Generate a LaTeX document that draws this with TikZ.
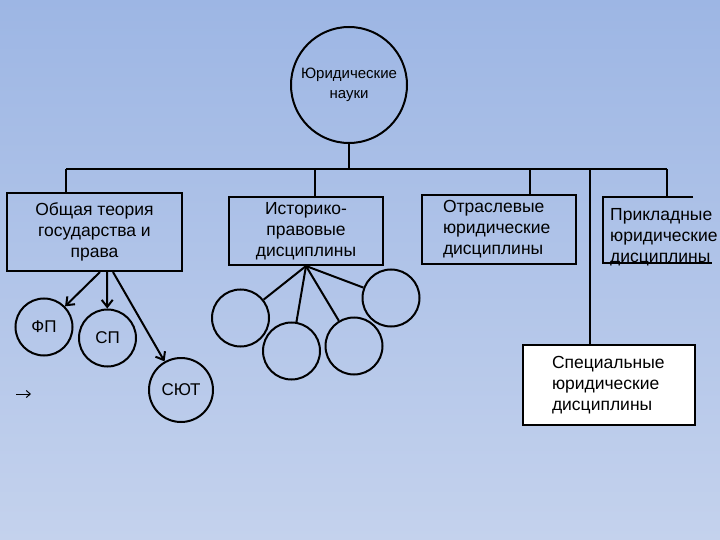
\documentclass[tikz,border=0pt]{standalone}
\usepackage{fontspec}
\setmainfont{Liberation Sans}
\usetikzlibrary{calc, positioning, arrows.meta}
\definecolor{bgtop}{RGB}{157,182,228}
\definecolor{bgbot}{RGB}{196,210,237}

\begin{document}
\begin{tikzpicture}[x=1pt, y=-1pt,
    link/.style={line width=2pt, black},
    arrow/.style={line width=2pt, black, -{Straight Barb[length=7pt, width=11pt]}},
    catbox/.style={draw=black, line width=2pt, inner sep=0pt, font=\fontsize{17.5}{21}\selectfont},
    leaf/.style={draw=black, circle, line width=2pt, minimum size=57pt, inner sep=0pt, font=\fontsize{17}{19}\selectfont}]

    % 0. Фон
    \shade[top color=bgtop, bottom color=bgbot] (0,0) rectangle (720,540);
    \useasboundingbox (0,0) rectangle (720,540);

    % 1. Корень: юридические науки
    \node[circle, draw, line width=2pt, minimum size=116pt, align=center,
          font=\fontsize{15}{20}\selectfont] (law) at (349,85) {Юридические\\науки};

    % 2. Группы дисциплин
    \node[catbox, minimum width=175pt, minimum height=78pt, align=center] (theory) at (94.5,232)
        {Общая теория\\государства и\\права};
    \node[catbox, minimum width=154pt, minimum height=68pt, align=center] (history) at (306,231)
        {Историко-\\правовые\\дисциплины};
    \node[catbox, text width=112pt, inner xsep=21pt, minimum height=69pt, align=left] (branch) at (499,229.5)
        {Отраслевые\\юридические\\дисциплины};
    \node[font=\fontsize{17.5}{21}\selectfont, align=left, anchor=west, inner sep=0pt] (applied) at (610,237)
        {Прикладные\\юридические\\дисциплины};
    \coordinate (appliedTop) at (603,197);
    \draw[link] (693,197) -- (appliedTop) -- (603,263) -- (712,263);
    \node[catbox, fill=white, text width=114pt, inner xsep=29pt, minimum height=80pt, align=left] (special) at (609,385)
        {Специальные\\юридические\\дисциплины};

    % 3. Шина и отводы
    \coordinate (busL) at (66,169);
    \coordinate (busR) at (667,169);
    \draw[link] (law) -- (law |- busL);
    \draw[link] (busL) -- (busR);
    \foreach \dx/\target in {66/theory.north, 315/history.north, 530/branch.north, 667/appliedTop, 590/special.north}
        \draw[link] (\dx,169) -- (\dx,169 |- \target);

    % 4. Круги под общей теорией
    \node[leaf] (fp) at (44,327) {ФП};
    \node[leaf] (sp) at (107.5,338) {СП};
    \node[leaf, minimum size=64pt] (syut) at (181,390) {СЮТ};
    \draw[arrow] ([xshift=5.5pt]theory.south) -- (fp);
    \draw[arrow] ([xshift=12.5pt]theory.south) -- (sp);
    \draw[arrow] ([xshift=18.5pt]theory.south) -- (syut);

    % 5. Пустые круги под историко-правовыми
    \node[leaf] (ha) at (240.5,318) {};
    \node[leaf] (hb) at (291.5,351) {};
    \node[leaf] (hc) at (354,346) {};
    \node[leaf] (hd) at (391,298) {};
    \foreach \c in {ha, hb, hc, hd}
        \draw[link] (history.south) -- (\c);

    % 6. Одиночная стрелка слева
    \coordinate (strayA) at (16,394);
    \coordinate (strayB) at (31,394);
    \draw[line width=1pt, -{Straight Barb[length=4pt, width=7pt]}] (strayA) -- (strayB);

\end{tikzpicture}
\end{document}
